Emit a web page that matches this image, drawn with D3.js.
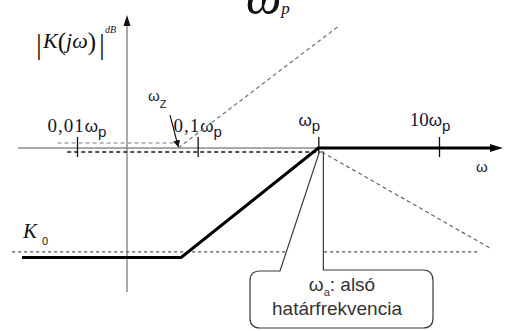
<!DOCTYPE html>
<html><head><meta charset="utf-8">
<script src="https://cdn.jsdelivr.net/npm/d3@7"></script>
<style>body{margin:0;background:#fff} svg{display:block}</style>
</head><body>
<svg id="chart" width="509" height="331"></svg>
<script>
// Frequencies are given relative to ωp, magnitudes in dB.
const decadeTicks = [0.01, 0.1, 1, 10];
const tickLabels = ["0,01", "0,1", "", "10"];
const K0 = -23.3;
const omegaZ = 0.069;
const omegaA = 0.073;
const asymptoteBode = [[0.0035, K0], [omegaA, K0], [1, 0], [29, 0]];
const zeroAsymptote = [[omegaZ, 0], [1.45, 25.8]];
const poleAsymptote = [[1.07, -0.85], [26.5, -21.3]];
const k0Level = [[0.0029, -22.1], [20.7, -22.1]];
const unityUpper = [[0.0069, 1.06], [0.065, 1.06]];
const unityLower = [[0.0083, -0.85], [1, -0.85]];
const zArrow = [[0.059, 7.0], [omegaZ, 0.3]];
const calloutApex = [1.02, -0.85];

const svg = d3.select("#chart");
const x = d3.scaleLog().domain([0.01, 10]).range([77, 439]);
const y = d3.scaleLinear().domain([-30, 30]).range([289, 7]);
const line = d3.line().x(d => x(d[0])).y(d => y(d[1]));

const defs = svg.append("defs");
defs.append("marker").attr("id", "arr").attr("viewBox", "0 0 10 10")
  .attr("refX", 9).attr("refY", 5).attr("markerWidth", 7).attr("markerHeight", 7)
  .attr("markerUnits", "userSpaceOnUse").attr("orient", "auto")
  .append("path").attr("d", "M0,0L10,5L0,10Z").attr("fill", "#111");

// axes
const y0 = y(0), xAxisX = 127;
svg.append("line").attr("x1", 18).attr("x2", 492).attr("y1", y0).attr("y2", y0)
  .attr("stroke", "#8c8c8c").attr("stroke-width", 1.5);
svg.append("path").attr("d", `M490,${y0-4}L503,${y0}L490,${y0+4}Z`).attr("fill", "#111");
svg.append("line").attr("x1", xAxisX).attr("x2", xAxisX).attr("y1", 292).attr("y2", 24)
  .attr("stroke", "#8c8c8c").attr("stroke-width", 1.5);
svg.append("path").attr("d", `M${xAxisX-3.5},26L${xAxisX},15L${xAxisX+3.5},26Z`).attr("fill", "#111");

const tickGroup = svg.append("g").attr("transform", `translate(0,${y0 - 11})`)
  .call(d3.axisBottom(x).tickValues(decadeTicks).tickSize(20).tickFormat(""));
tickGroup.select(".domain").remove();
tickGroup.selectAll("line").attr("stroke", "#111").attr("stroke-width", 1.3);

// tick labels  (n·ωp)
const lab = svg.append("g").attr("fill", "#15152a");
decadeTicks.forEach((d, i) => {
  const t = lab.append("text")
    .attr("x", x(d) + (d >= 1 ? -9 : 0))
    .attr("y", d >= 1 ? 126 : 132)
    .attr("text-anchor", "middle");
  t.append("tspan").attr("font-family", "Liberation Serif").attr("font-size", 19)
    .attr("letter-spacing", d < 1 ? 1 : 0).text(tickLabels[i]);
  t.append("tspan").attr("font-family", "Liberation Sans").attr("font-size", 17).text("ω");
  t.append("tspan").attr("font-family", "Liberation Sans").attr("font-size", 15).attr("dy", 5).text("p");
});

// dashed construction lines
function dashed(data, color, w, dash) {
  svg.append("path").attr("d", line(data)).attr("fill", "none")
    .attr("stroke", color).attr("stroke-width", w).attr("stroke-dasharray", dash);
}
dashed(unityUpper, "#a8a8a8", 1.5, "4,3");
dashed(unityLower, "#1a1a1a", 1.5, "4,3");
dashed(zeroAsymptote, "#7a7a7a", 1.3, "4,3");
dashed(poleAsymptote, "#666", 1.2, "4,3");
dashed(k0Level, "#555", 1.1, "3,3");

// asymptotic Bode magnitude
svg.append("path").attr("d", line(asymptoteBode)).attr("fill", "none")
  .attr("stroke", "#000").attr("stroke-width", 3).attr("stroke-linejoin", "miter");

// ωz pointer
svg.append("path").attr("d", line(zArrow)).attr("stroke", "#111").attr("stroke-width", 1.2)
  .attr("marker-end", "url(#arr)");

// callout for ωa
const ax = x(calloutApex[0]), ay = y(calloutApex[1]);
const bL = 250, bR = 433, bT = 271, bB = 328, r = 10;
const p = d3.path();
p.moveTo(bL + r, bT);
p.lineTo(280, bT);
p.lineTo(ax, ay);
p.lineTo(ax + 4, ay);
p.lineTo(ax + 4, bT - 1);
p.lineTo(bR - r, bT - 1);
p.quadraticCurveTo(bR, bT - 1, bR, bT + r);
p.lineTo(bR, bB - r);
p.quadraticCurveTo(bR, bB, bR - r, bB);
p.lineTo(bL + r, bB);
p.quadraticCurveTo(bL, bB, bL, bB - r);
p.lineTo(bL, bT + r);
p.quadraticCurveTo(bL, bT, bL + r, bT);
svg.append("path").attr("d", p.toString()).attr("fill", "#fff")
  .attr("stroke", "#3a3a3a").attr("stroke-width", 1.2);

const c1 = svg.append("text").attr("x", 342).attr("y", 291).attr("text-anchor", "middle")
  .attr("font-family", "Liberation Sans").attr("font-size", 19).attr("fill", "#333");
c1.append("tspan").text("ω");
c1.append("tspan").attr("font-size", 11).attr("dy", 5).text("a");
c1.append("tspan").attr("dy", -5).text(": alsó");
svg.append("text").attr("x", 337).attr("y", 315).attr("text-anchor", "middle")
  .attr("font-family", "Liberation Sans").attr("font-size", 19).attr("fill", "#333")
  .text("határfrekvencia");

// other labels
const zl = svg.append("text").attr("x", 148).attr("y", 101)
  .attr("font-family", "Liberation Sans").attr("font-size", 15).attr("fill", "#15152a");
zl.append("tspan").text("ω");
zl.append("tspan").attr("font-size", 11).attr("dy", 7).text("Z");

svg.append("text").attr("x", 476).attr("y", 172).attr("font-family", "Liberation Sans")
  .attr("font-size", 15).attr("fill", "#15152a").text("ω");

const kl = svg.append("text").attr("x", 23).attr("y", 238).attr("fill", "#111");
kl.append("tspan").attr("font-family", "Liberation Serif").attr("font-style", "italic")
  .attr("font-size", 21).text("K");
kl.append("tspan").attr("font-family", "Liberation Sans").attr("font-size", 11)
  .attr("dx", 5).attr("dy", 7).text("0");

const titleOmega = svg.append("text").attr("x", 246).attr("y", 14).attr("fill", "#111")
  .attr("font-family", "Liberation Serif").attr("font-style", "italic");
titleOmega.append("tspan").attr("font-size", 50).text("ω");
titleOmega.append("tspan").attr("font-size", 17).text("p");

const yl = svg.append("g").attr("fill", "#111").attr("font-family", "Liberation Serif");
yl.append("text").attr("x", 36).attr("y", 54).attr("font-size", 29).text("|");
const kj = yl.append("text").attr("x", 43).attr("y", 48).attr("font-size", 22);
kj.append("tspan").attr("font-style", "italic").text("K");
kj.append("tspan").attr("font-size", 25).attr("dy", 2).text("(");
kj.append("tspan").attr("font-style", "italic").attr("dy", -2).text("jω");
kj.append("tspan").attr("font-size", 25).attr("dy", 2).text(")");
yl.append("text").attr("x", 99).attr("y", 54).attr("font-size", 29).text("|");
yl.append("text").attr("x", 105).attr("y", 33).attr("font-size", 10)
  .attr("font-style", "italic").text("dB");
</script>
</body></html>
